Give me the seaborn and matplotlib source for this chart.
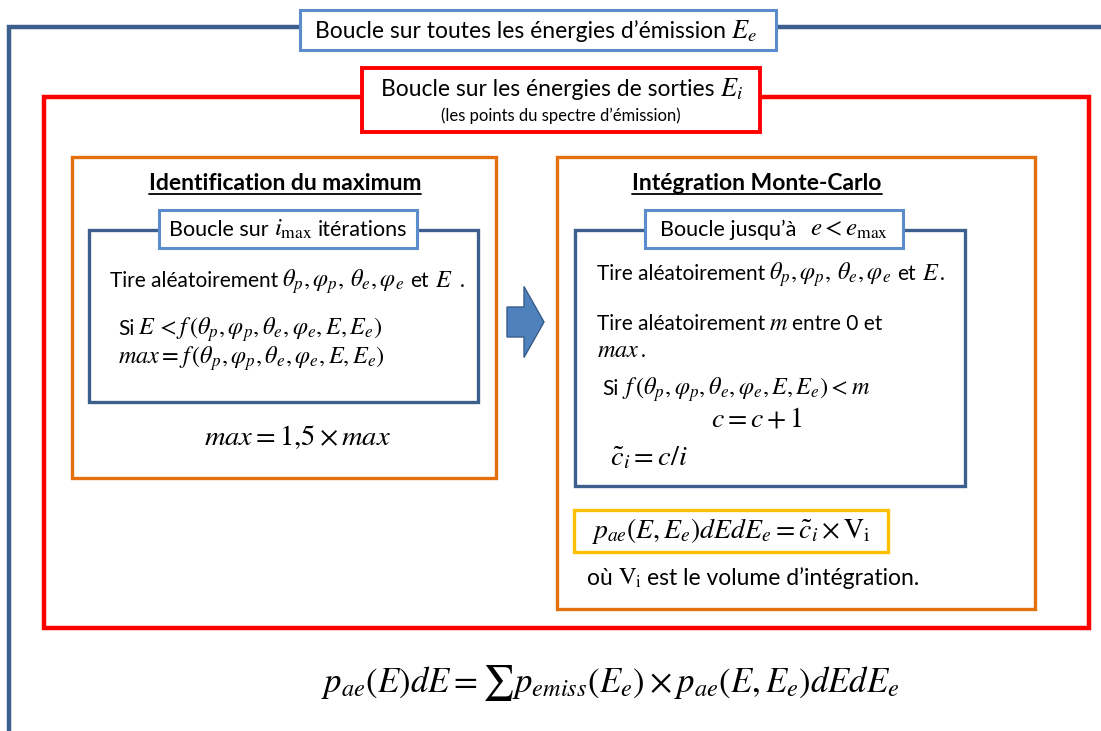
import matplotlib
matplotlib.use("Agg")
import matplotlib.pyplot as plt
import matplotlib.patches as mpatches
import seaborn as sns

sns.set_theme(style="white")
plt.rcParams['font.family'] = ['Lato', 'DejaVu Sans']
plt.rcParams['mathtext.fontset'] = 'stix'
plt.rcParams['text.color'] = 'black'

# texts of the diagram (plain text size / math size are set per row below)
angles = r"$\theta_p, \varphi_p, \,\theta_e, \varphi_e$"
f_args = r"f\,(\theta_p, \varphi_p, \theta_e, \varphi_e, E, E_e)"
outer_title = ["Boucle sur toutes les énergies d’émission", "$E_e$"]
red_title = ["Boucle sur les énergies de sorties", "$E_i$"]
red_sub = "(les points du spectre d’émission)"
left_title = "Identification du maximum"
left_loop = ["Boucle sur", r"$i_{\mathrm{max}}$", "itérations"]
left_bottom = r"$max = 1{,}5 \times max$"
right_title = "Intégration Monte-Carlo"
right_loop = ["Boucle jusqu’à", r"$e < e_{\mathrm{max}}$"]
right_inc = r"$c = c + 1$"
right_ratio = r"$\tilde{c}_i = c/i$"
yellow_eq = r"$p_{ae}(E, E_e)dEdE_e = \tilde{c}_i \times \mathrm{V_i}$"
volume_note = ["où", r"$\mathrm{V_i}$", "est le volume d’intégration."]
bottom_eq = r"$p_{ae}(E)dE = \sum p_{emiss}(E_e) \times p_{ae}(E, E_e)dEdE_e$"

dark_blue = "#3c5f8e"
light_blue = "#5b8ccb"
red = "#ff0000"
orange = "#e4700d"
yellow = "#ffc000"

fig = plt.figure(figsize=(11.01, 7.31), dpi=100)
ax = fig.add_axes([0, 0, 1, 1])
ax.set_xlim(0, 1101)
ax.set_ylim(731, 0)
ax.axis("off")
renderer = fig.canvas.get_renderer()


def box(x0, y0, x1, y1, color, lw, z=2, fill=False):
    r = mpatches.Rectangle((x0, y0), x1 - x0, y1 - y0, fill=fill,
                           facecolor="white", edgecolor=color, lw=lw, zorder=z,
                           joinstyle="miter")
    ax.add_patch(r)


def row(x, y, parts, ha="left", z=4):
    # parts: (string, size) pieces laid out one after the other on a baseline,
    # plain numbers are gaps in pixels
    texts = []
    cx = x
    for p in parts:
        if isinstance(p, (int, float)):
            cx += p
            continue
        s, size = p
        t = ax.text(cx, y, s, fontsize=size, va="baseline", zorder=z)
        cx += t.get_window_extent(renderer).width
        texts.append(t)
    if ha == "center":
        shift = (cx - x) / 2
        for t in texts:
            t.set_x(t.get_position()[0] - shift)
    return texts


# outer blue loop (open to the right and bottom)
ax.plot([1101, 9, 9], [27, 27, 731], color=dark_blue, lw=3.2,
        solid_joinstyle="miter", zorder=1)
box(300, 10, 776, 50, light_blue, 2.2, z=3, fill=True)
row(536, 38, [(outer_title[0], 16.5), 5, (outer_title[1], 19)], ha="center")

# red loop
box(44, 97, 1089, 628, red, 3.2)
box(362, 68, 760, 132, red, 2.8, z=3, fill=True)
row(562, 96, [(red_title[0], 16.5), 5, (red_title[1], 19)], ha="center")
ax.text(561, 116, red_sub, fontsize=12, ha="center", va="center", zorder=4)

# left: identification du maximum
box(72, 157, 496, 478, orange, 2.4)
t_left = ax.text(285, 183, left_title, fontsize=16.5, fontweight="bold",
                 ha="center", va="center")
box(89, 230, 478, 402, dark_blue, 2.4)
box(159, 210, 417, 248, light_blue, 2.2, z=3, fill=True)
row(288, 236, [(left_loop[0], 15.5), 5, (left_loop[1], 18), 5,
               (left_loop[2], 15.5)], ha="center")
row(110, 287, [("Tire aléatoirement", 15), 4, (angles, 17.5), 6, ("et", 15),
               6, ("$E$", 17.5), 8, (".", 15)])
row(118, 335, [("Si", 15), 4, (r"$E\, < " + f_args + "$", 17.5)])
row(118, 364, [(r"$max = " + f_args + "$", 17.5)])
ax.text(297, 437, left_bottom, fontsize=20.5, ha="center", va="center")

# arrow between the two blocks
ax.add_patch(mpatches.FancyArrow(507, 322, 37, 0, width=30, head_width=71,
                                 head_length=20, length_includes_head=True,
                                 facecolor="#4f81bd", edgecolor="#385d8a",
                                 lw=1, zorder=3))

# right: intégration Monte-Carlo
box(557, 157, 1035, 609, orange, 2.4)
t_right = ax.text(757, 183, right_title, fontsize=16.5, fontweight="bold",
                  ha="center", va="center")
box(575, 230, 965, 486, dark_blue, 2.4)
box(645, 210, 903, 248, light_blue, 2.2, z=3, fill=True)
row(774, 236, [(right_loop[0], 15.5), 14, (right_loop[1], 18)], ha="center")
row(597, 280, [("Tire aléatoirement", 15), 4, (angles, 17.5), 6, ("et", 15),
               6, ("$E$", 17.5), 1, (".", 15)])
row(597, 330, [("Tire aléatoirement", 15), 4, ("$m$", 17.5), 4,
               ("entre 0 et", 15)])
row(597, 357, [("$max$", 17.5), 1, (".", 15)])
row(602, 395, [("Si", 15), 4, (r"$" + f_args + " < m$", 17.5)])
ax.text(757, 418, right_inc, fontsize=20, ha="center", va="center")
ax.text(610, 458, right_ratio, fontsize=20.5, va="center")
box(574, 510, 888, 552, yellow, 2.4)
ax.text(731, 531, yellow_eq, fontsize=20, ha="center", va="center")
row(587, 585, [(volume_note[0], 16.5), 5, (volume_note[1], 17.5), 5,
               (volume_note[2], 16.5)])

# bottom formula
ax.text(610, 683, bottom_eq, fontsize=25, ha="center", va="center")

# underline the bold titles
fig.canvas.draw()
inv = ax.transData.inverted()
for t in (t_left, t_right):
    bb = t.get_window_extent()
    (xa, _), (xb, _) = inv.transform([[bb.x0, bb.y0], [bb.x1, bb.y1]])
    ax.plot([xa, xb], [194, 194], color="black", lw=1.3)

fig.savefig("out.png", dpi=100)
